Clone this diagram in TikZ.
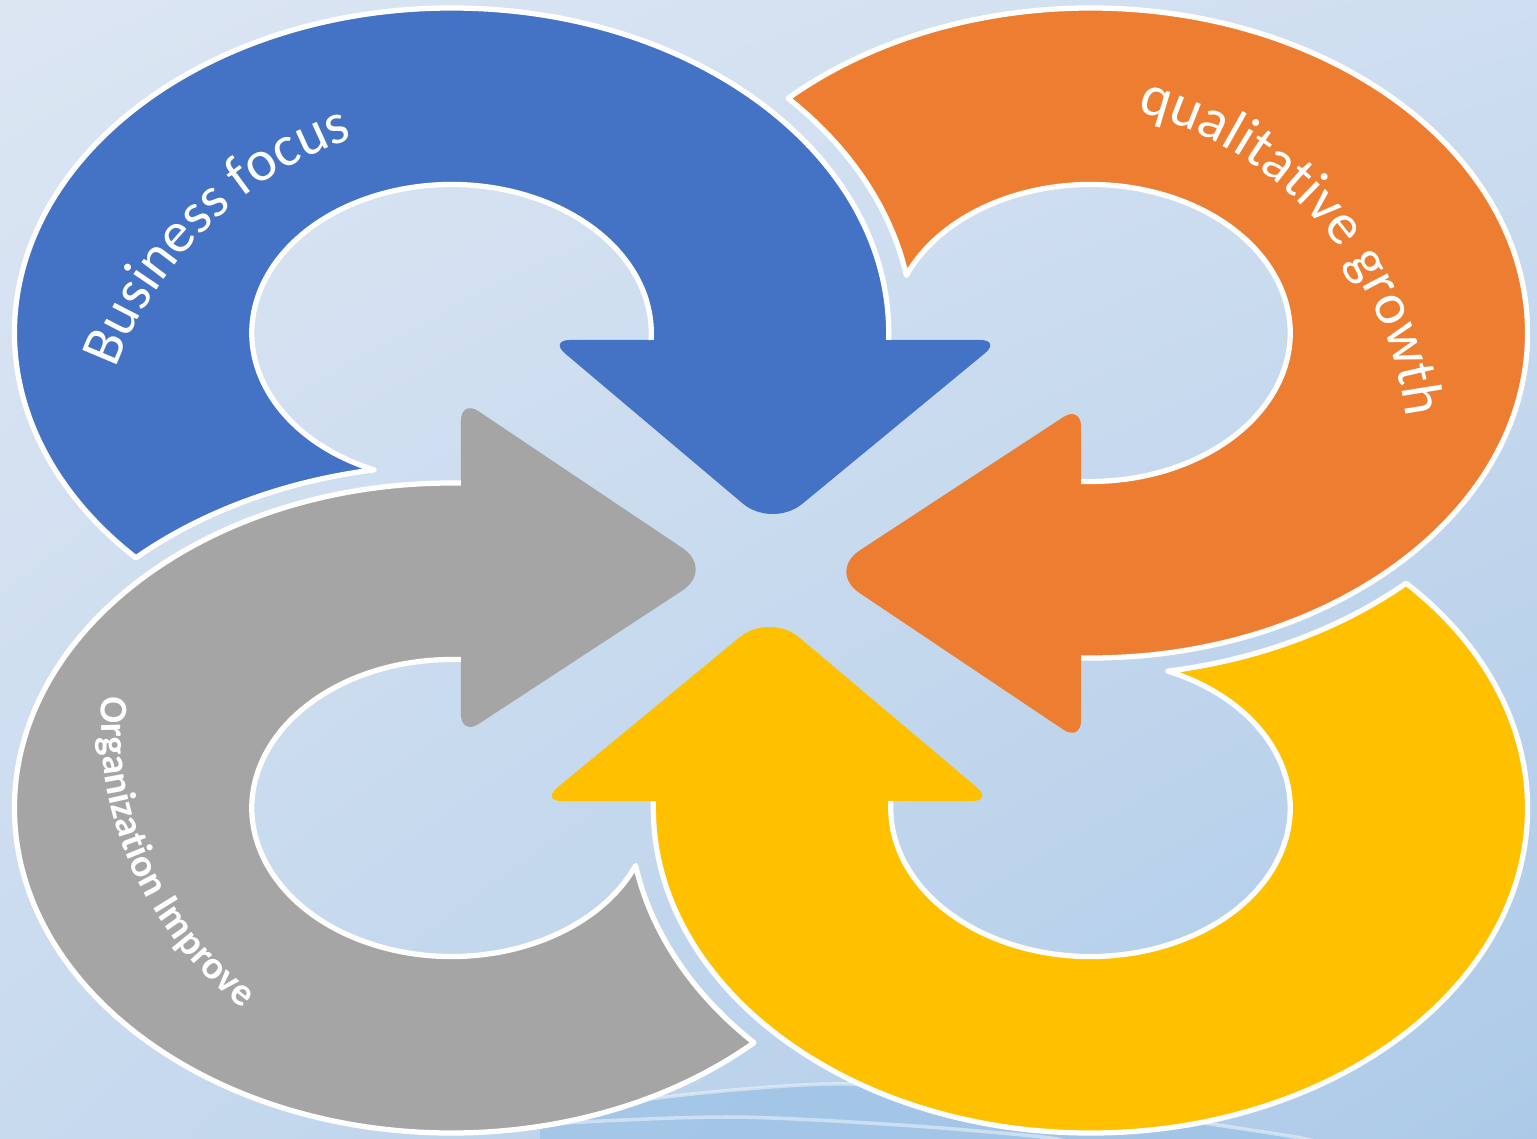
\documentclass[tikz,border=0pt]{standalone}
\usepackage{fontspec}
\setmainfont{Carlito}
\usepackage{tikz}
\usetikzlibrary{decorations.text,shadings}

\definecolor{bgTL}{RGB}{220,230,243}
\definecolor{bgTR}{RGB}{207,222,240}
\definecolor{bgBL}{RGB}{200,218,238}
\definecolor{bgBR}{RGB}{172,202,232}
\definecolor{waveBlue}{RGB}{158,195,230}
\definecolor{ringBlue}{HTML}{4472C4}
\definecolor{ringOrange}{HTML}{ED7D31}
\definecolor{ringGray}{HTML}{A5A5A5}
\definecolor{ringYellow}{HTML}{FFC000}

\tikzset{
  rim/.style={draw=white,line width=1.5pt,line join=round},
  waveline/.style={draw=white,opacity=.45,line width=1pt},
  arctext/.style={decorate,decoration={text along path,text align=left,text color=white,text={#1}}}
}

% one ring with its arrow head, turned by #1
\newcommand{\ringarrow}[2]{%
  \begin{scope}[rotate=#1]
    \fill[#2] (-4.7217,0.1266) arc[start angle=223.77,end angle=0,radius=3.25]
      -- (0.875,2.305)
      [rounded corners=6pt] -- (1.71,2.305)
      [rounded corners=11pt] -- (0.01,0.42)
      [rounded corners=6pt] -- (-1.65,2.305)
      [sharp corners] -- (-0.89,2.305) -- (-0.89,2.375)
      arc[start angle=0,end angle=247.17,radius=1.485]
      arc[start angle=99.67,end angle=133.17,radius=3.43] -- cycle;
    \draw[rim] (0.875,2.305) -- (0.875,2.375) arc[start angle=0,end angle=223.77,radius=3.25]
      arc[start angle=133.17,end angle=99.67,radius=3.43]
      arc[start angle=247.17,end angle=0,radius=1.485] -- (-0.89,2.305);
  \end{scope}}

\begin{document}
\begin{tikzpicture}

	\useasboundingbox (0,0) rectangle (15.37,-11.38);
	\shade[upper left=bgTL,upper right=bgTR,lower left=bgBL,lower right=bgBR] (0,0) rectangle (15.37,-11.38);

%	waves at the foot of the slide
	\fill[waveBlue,opacity=.8] plot[smooth] coordinates {(5.4,-11.2) (6.57,-10.98) (8.3,-10.84) (10.0,-10.93) (12.17,-11.25) (13.01,-11.38) (13.3,-11.45)}
		-- (5.4,-11.45) -- cycle;
	\draw[waveline] plot[smooth] coordinates {(5.4,-11.2) (6.57,-10.98) (8.3,-10.84) (10.0,-10.93) (12.17,-11.25) (13.01,-11.38) (13.3,-11.45)};
	\draw[waveline] plot[smooth] coordinates {(4.6,-11.33) (5.64,-11.23) (7.32,-11.17) (9.0,-11.25) (10.43,-11.37) (10.8,-11.45)};

	\begin{scope}[shift={(7.71,-5.705)},xscale=1.345]
		\ringarrow{0}{ringBlue}
		\ringarrow{-90}{ringOrange}
		\ringarrow{-180}{ringYellow}
		\ringarrow{-270}{ringGray}
	\end{scope}

	\path[arctext={|\fontsize{16.5}{20}\selectfont|Business focus}]
		(1.160,-3.690) arc[start angle=159.5,end angle=80,radius=3.87];
	\path[arctext={|\fontsize{16.5}{20}\selectfont|qualitative growth}]
		(11.369,-1.120) arc[start angle=75.8,end angle=-25,radius=3.594];
	\path[arctext={|\fontsize{11.2}{14}\selectfont\bfseries|Organization Improve}]
		(1.020,-6.969) arc[start angle=176,end angle=250,radius=3.6];

\end{tikzpicture}
\end{document}
